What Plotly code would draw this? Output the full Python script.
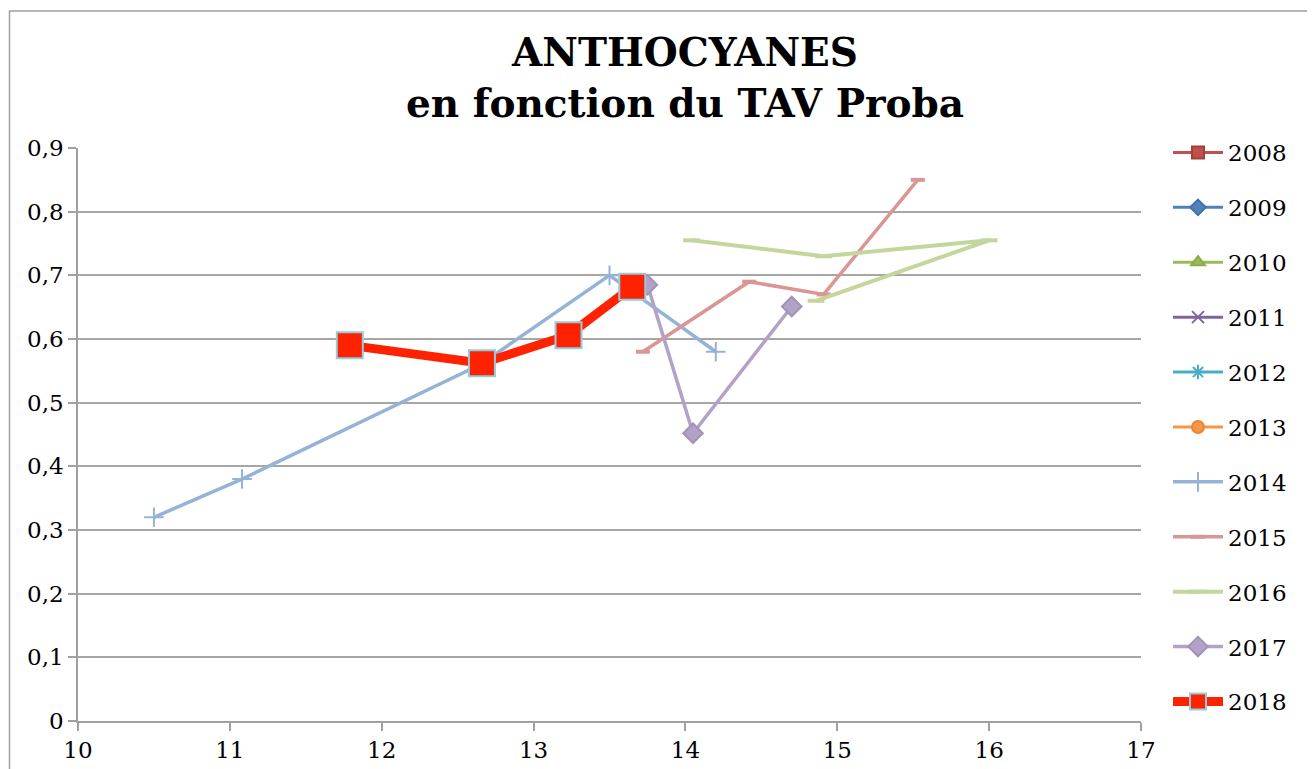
import plotly.graph_objects as go

# ---- data ----
years = ["2008", "2009", "2010", "2011", "2012", "2013", "2014", "2015", "2016", "2017", "2018"]

x_2014 = [10.5, 11.08, 12.65, 13.5, 14.2]
y_2014 = [0.32, 0.38, 0.56, 0.70, 0.58]

x_2015 = [13.72, 14.42, 14.91, 15.53]
y_2015 = [0.58, 0.69, 0.67, 0.85]

x_2016 = [14.04, 14.91, 16.0, 14.86]
y_2016 = [0.755, 0.73, 0.755, 0.66]

x_2017 = [13.75, 14.05, 14.70]
y_2017 = [0.685, 0.452, 0.651]

x_2018 = [11.79, 12.66, 13.23, 13.65]
y_2018 = [0.59, 0.562, 0.606, 0.682]

series_x = {"2014": x_2014, "2015": x_2015, "2016": x_2016, "2017": x_2017, "2018": x_2018}
series_y = {"2014": y_2014, "2015": y_2015, "2016": y_2016, "2017": y_2017, "2018": y_2018}

# ---- styles ----
styles = {
    "2008": dict(color="#C0504D", symbol="square", msize=12, lw=3, mline="#A0403D", mw=2),
    "2009": dict(color="#4F81BD", symbol="diamond", msize=12, lw=3, mline="#3F71AD", mw=2),
    "2010": dict(color="#9BBB59", symbol="triangle-up", msize=12, lw=3, mline="#8BAB49", mw=2),
    "2011": dict(color="#8064A2", symbol="x-thin", msize=12, lw=3, mline="#8064A2", mw=2),
    "2012": dict(color="#4BACC6", symbol="asterisk", msize=12, lw=3, mline="#4BACC6", mw=2),
    "2013": dict(color="#F79646", symbol="circle", msize=12, lw=3, mline="#E78636", mw=2),
    "2014": dict(color="#95B3D7", symbol="cross-thin", msize=14, lw=3.5, mline="#95B3D7", mw=2),
    "2015": dict(color="#D99694", symbol="line-ew", msize=10, lw=3.5, mline="#D99694", mw=4),
    "2016": dict(color="#C3D69B", symbol="line-ew", msize=12, lw=4, mline="#C3D69B", mw=4),
    "2017": dict(color="#B3A2C7", symbol="diamond", msize=15, lw=3.5, mline="#A392B7", mw=2),
    "2018": dict(color="#FF2200", symbol="square", msize=26, lw=9, mline="#93CDDD", mw=2),
}

fig = go.Figure()
for yr in years:
    st = styles[yr]
    xs = series_x.get(yr, [None])
    ys = series_y.get(yr, [None])
    fig.add_trace(go.Scatter(
        x=xs, y=ys, name=yr, mode="lines+markers",
        legendgroup=yr,
        line=dict(color=st["color"], width=st["lw"]),
        marker=dict(symbol=st["symbol"], size=st["msize"], color=st["color"],
                    line=dict(color=st["mline"], width=st["mw"])),
    ))

W, H = 1315, 769
OFF = 8  # page body margin offset
# plot area in page pixels
L, R, T, B = 78, 1141, 148, 721
pw, ph = R - L, B - T

def px(xp):
    return (xp - L) / pw

def py(yp):
    return (B - yp) / ph

serif = "DejaVu Serif"

fig.update_layout(
    width=W, height=H, autosize=False,
    margin=dict(l=L - OFF, r=W - (R - OFF), t=T - OFF, b=H - (B - OFF), autoexpand=False),
    paper_bgcolor="white", plot_bgcolor="white",
    separators=", ",
    font=dict(family=serif, size=23, color="black"),
    title=dict(text="<b>ANTHOCYANES<br>en fonction du TAV Proba</b>",
               x=px(685), xanchor="center", xref="paper",
               y=1 - (66 - OFF) / H, yanchor="top", yref="container",
               font=dict(family=serif, size=39, color="black")),
    legend=dict(x=px(1168), xanchor="left", y=py(131), yanchor="top",
                font=dict(family=serif, size=23, color="black"),
                tracegroupgap=22, bgcolor="rgba(0,0,0,0)", itemwidth=50,
                maxheight=700),
    xaxis=dict(range=[10, 17], dtick=1, tick0=10, showgrid=False, zeroline=False,
               showline=True, linecolor="#A0A0A0", linewidth=1.5,
               ticks="outside", ticklen=8, tickcolor="#A0A0A0", tickwidth=1.5,
               tickfont=dict(family=serif, size=23, color="black")),
    yaxis=dict(range=[0, 0.9], dtick=0.1, tick0=0, showgrid=True, gridcolor="#A6A6A6",
               gridwidth=1.5, zeroline=False,
               showline=True, linecolor="#A0A0A0", linewidth=1.5,
               ticks="outside", ticklen=8, tickcolor="#A0A0A0", tickwidth=1.5,
               tickfont=dict(family=serif, size=23, color="black")),
    shapes=[dict(type="rect", xref="paper", yref="paper",
                 x0=px(9.5), x1=px(1312), y0=py(800), y1=py(11),
                 line=dict(color="#A0A0A0", width=1.5), fillcolor="rgba(0,0,0,0)",
                 layer="below")],
)

fig.write_html("out.html")
